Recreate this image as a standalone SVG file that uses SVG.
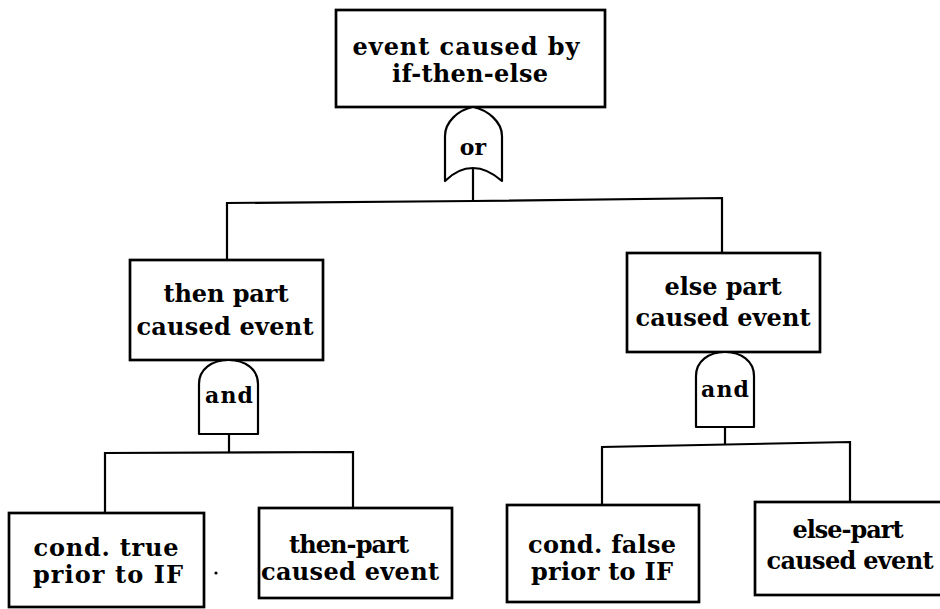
<svg xmlns="http://www.w3.org/2000/svg" width="940" height="609" viewBox="0 0 940 609">
  <style>
    .box { fill: #fff; stroke: #000; stroke-width: 2.7; }
    .gate { fill: #fff; stroke: #000; stroke-width: 2.2; stroke-linejoin: round; }
    .wire { fill: none; stroke: #000; stroke-width: 2.2; }
    .lbl { font-family: "DejaVu Serif", "Liberation Serif", serif; font-weight: bold; font-size: 24px; fill: #000; text-anchor: middle; }
    .glbl { font-family: "DejaVu Serif", "Liberation Serif", serif; font-weight: bold; font-size: 22px; fill: #000; text-anchor: middle; }
  </style>
  <rect width="940" height="609" fill="#fff"/>

  <!-- connectors -->
  <g id="connectors">
    <line class="wire" x1="473" y1="168" x2="473" y2="201"/>
    <polyline class="wire" points="227,260 227,203 473,201 722,198 722,253"/>
    <line class="wire" x1="229" y1="434" x2="229" y2="453"/>
    <polyline class="wire" points="105,513 105,453 353,452 353,508"/>
    <line class="wire" x1="725" y1="427" x2="725" y2="444"/>
    <polyline class="wire" points="602,505 602,447 850,442 850,502"/>
  </g>

  <!-- top event -->
  <g id="top-event">
    <rect class="box" x="336" y="10" width="269" height="97"/>
    <text class="lbl" x="466" y="55" textLength="227" lengthAdjust="spacing">event caused by</text>
    <text class="lbl" x="470" y="82" textLength="156" lengthAdjust="spacing">if-then-else</text>
  </g>

  <!-- or gate -->
  <g id="or-gate">
    <path class="gate" d="M445,181 L445,136 C445,122 458,110 473,107 C488,110 502,122 502,136 L502,181 C494,174 484,168 473,168 C462,168 452,174 445,181 Z"/>
    <text class="glbl" x="473" y="155">or</text>
  </g>

  <!-- then part -->
  <g id="then-part">
    <rect class="box" x="130" y="260" width="193" height="100"/>
    <text class="lbl" x="226" y="302" textLength="125" lengthAdjust="spacing">then part</text>
    <text class="lbl" x="225" y="335" textLength="177" lengthAdjust="spacing">caused event</text>
  </g>

  <!-- else part -->
  <g id="else-part">
    <rect class="box" x="627" y="253" width="193" height="99"/>
    <text class="lbl" x="723" y="295" textLength="117" lengthAdjust="spacing">else part</text>
    <text class="lbl" x="723" y="326" textLength="175" lengthAdjust="spacing">caused event</text>
  </g>

  <!-- and gates -->
  <g id="and-gate-then">
    <path class="gate" d="M199,434 L199,384 C199,369 212,360 228.5,360 C245,360 258,369 258,384 L258,434 Z"/>
    <text class="glbl" x="229" y="403" textLength="48" lengthAdjust="spacing">and</text>
  </g>
  <g id="and-gate-else">
    <path class="gate" d="M696,427 L696,376 C696,361 709,352 725,352 C741,352 754,361 754,376 L754,427 Z"/>
    <text class="glbl" x="725" y="397" textLength="48" lengthAdjust="spacing">and</text>
  </g>

  <!-- basic events -->
  <g id="cond-true">
    <rect class="box" x="9" y="513" width="195" height="94"/>
    <text class="lbl" x="106" y="556" textLength="145" lengthAdjust="spacing">cond. true</text>
    <text class="lbl" x="108" y="583" textLength="150" lengthAdjust="spacing">prior to IF</text>
  </g>
  <circle cx="216" cy="573" r="1.6" fill="#000"/>

  <g id="then-part-event">
    <rect class="box" x="259" y="508" width="193" height="90"/>
    <text class="lbl" x="349" y="553" textLength="120" lengthAdjust="spacing">then-part</text>
    <text class="lbl" x="350" y="580" textLength="178" lengthAdjust="spacing">caused event</text>
  </g>

  <g id="cond-false">
    <rect class="box" x="507" y="505" width="192" height="97"/>
    <text class="lbl" x="602" y="553" textLength="148" lengthAdjust="spacing">cond. false</text>
    <text class="lbl" x="602" y="580" textLength="142" lengthAdjust="spacing">prior to IF</text>
  </g>

  <g id="else-part-event">
    <rect class="box" x="755" y="502" width="195" height="93"/>
    <text class="lbl" x="848" y="538" textLength="111" lengthAdjust="spacing">else-part</text>
    <text class="lbl" x="850" y="569" textLength="167" lengthAdjust="spacing">caused event</text>
  </g>
</svg>
